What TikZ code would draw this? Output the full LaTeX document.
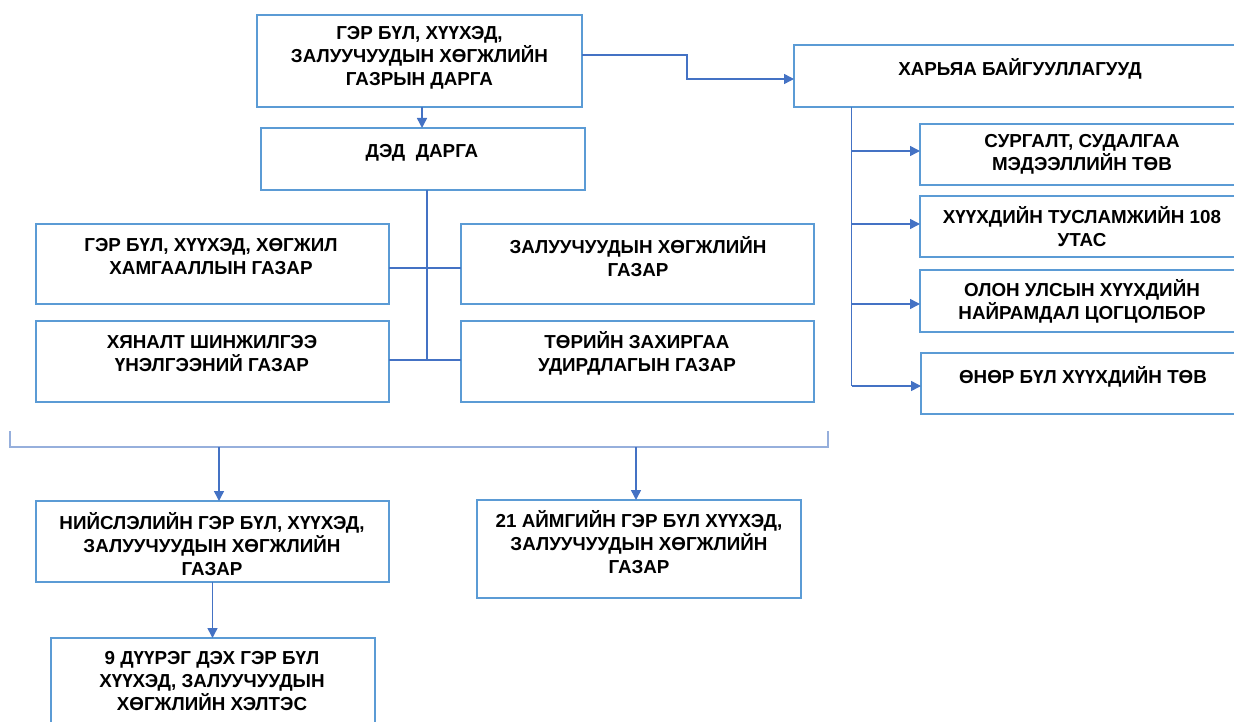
\documentclass[tikz,border=0pt]{standalone}
\usepackage{fontspec}
\setmainfont{Liberation Sans}
\usetikzlibrary{arrows.meta,calc}
\definecolor{boxblue}{RGB}{91,155,213}
\definecolor{lineblue}{RGB}{68,114,196}
\definecolor{brkblue}{RGB}{150,175,220}
\tikzset{
  box/.style={draw=boxblue, line width=1.8pt, inner sep=0pt, outer sep=0pt, anchor=north west},
  txt/.style={font=\bfseries\fontsize{18.8}{23}\selectfont, align=center, inner sep=0pt, text=black},
  conn/.style={draw=lineblue, line width=1.5pt},
  arr/.style={conn, -{Triangle[length=10pt,width=10pt]}},
}
\begin{document}
\begin{tikzpicture}[x=1pt,y=1pt]
\useasboundingbox (0,0) rectangle (1234,-722);
% boxes
\node[box, minimum width=325pt, minimum height=92pt] (top) at (257,-15) {};
\node[box, minimum width=324pt, minimum height=62pt] (ded) at (261,-128) {};
\node[box, minimum width=452pt, minimum height=62pt] (harya) at (794,-45) {};
\node[box, minimum width=324pt, minimum height=61pt] (s1) at (920,-124) {};
\node[box, minimum width=324pt, minimum height=61pt] (s2) at (920,-196) {};
\node[box, minimum width=324pt, minimum height=62pt] (s3) at (920,-270) {};
\node[box, minimum width=323pt, minimum height=61pt] (s4) at (921,-353) {};
\node[box, minimum width=353pt, minimum height=80pt] (g1) at (36,-224) {};
\node[box, minimum width=353pt, minimum height=80pt] (g2) at (461,-224) {};
\node[box, minimum width=353pt, minimum height=81pt] (g3) at (36,-321) {};
\node[box, minimum width=353pt, minimum height=81pt] (g4) at (461,-321) {};
\node[box, minimum width=353pt, minimum height=81pt] (nis) at (36,-501) {};
\node[box, minimum width=324pt, minimum height=98pt] (aim) at (477,-500) {};
\node[box, minimum width=324pt, minimum height=107pt] (dur) at (51,-638) {};
% texts
\node[txt] (ttop) at (419.5,-58) {ГЭР БҮЛ, ХҮҮХЭД,\\ЗАЛУУЧУУДЫН ХӨГЖЛИЙН\\ГАЗРЫН ДАРГА};
\node[txt] (tded) at (422,-153) {ДЭД\ \ ДАРГА};
\node[txt] (tharya) at (1020,-69) {ХАРЬЯА БАЙГУУЛЛАГУУД};
\node[txt] (ts1) at (1082,-154.5) {СУРГАЛТ, СУДАЛГАА\\МЭДЭЭЛЛИЙН ТӨВ};
\node[txt] (ts2) at (1082,-227) {ХҮҮХДИЙН ТУСЛАМЖИЙН 108\\УТАС};
\node[txt] (ts3) at (1082,-301) {ОЛОН УЛСЫН ХҮҮХДИЙН\\НАЙРАМДАЛ ЦОГЦОЛБОР};
\node[txt] (ts4) at (1083,-377) {ӨНӨР БҮЛ ХҮҮХДИЙН ТӨВ};
\node[txt] (tg1) at (211,-256.5) {ГЭР БҮЛ, ХҮҮХЭД, ХӨГЖИЛ\\ХАМГААЛЛЫН ГАЗАР};
\node[txt] (tg2) at (638,-256.5) {ЗАЛУУЧУУДЫН ХӨГЖЛИЙН\\ГАЗАР};
\node[txt] (tg3) at (212,-354) {ХЯНАЛТ ШИНЖИЛГЭЭ\\ҮНЭЛГЭЭНИЙ ГАЗАР};
\node[txt] (tg4) at (637,-353) {ТӨРИЙН ЗАХИРГАА\\УДИРДЛАГЫН ГАЗАР};
\node[txt] (tnis) at (212,-544) {НИЙСЛЭЛИЙН ГЭР БҮЛ, ХҮҮХЭД,\\ЗАЛУУЧУУДЫН ХӨГЖЛИЙН\\ГАЗАР};
\node[txt] (taim) at (639,-542.5) {21 АЙМГИЙН ГЭР БҮЛ ХҮҮХЭД,\\ЗАЛУУЧУУДЫН ХӨГЖЛИЙН\\ГАЗАР};
\node[txt] (tdur) at (212,-681) {9 ДҮҮРЭГ ДЭХ ГЭР БҮЛ\\ХҮҮХЭД, ЗАЛУУЧУУДЫН\\ХӨГЖЛИЙН ХЭЛТЭС};
% connectors
\draw[arr] ([xshift=2.5pt]top.south) -- ([xshift=2.5pt]top.south |- ded.north);
\draw[arr] ([yshift=6pt]top.east) -| (687,-79) -- (harya.west |- 0,-79);
% central trunk
\coordinate (jn1) at (427,-268);
\coordinate (jn2) at (427,-360);
\draw[conn, line width=1.2pt] (ded.south -| jn1) -- (jn2);
\draw[conn, line width=1.2pt] (g1.east |- jn1) -- (g2.west |- jn1);
\draw[conn, line width=1.2pt] (g3.east |- jn2) -- (g4.west |- jn2);
% subsidiaries trunk
\coordinate (tr) at (851.5,-386);
\draw[conn, line width=1.2pt] (harya.south -| tr) -- (tr);
\draw[arr] (tr |- 0,-151) -- (s1.west |- 0,-151);
\draw[arr] (tr |- 0,-224) -- (s2.west |- 0,-224);
\draw[arr] (tr |- 0,-304) -- (s3.west |- 0,-304);
\draw[arr] (tr) -- (s4.west |- tr);
% bracket
\coordinate (bk1) at (10,-431);
\coordinate (bk2) at (828,-431);
\coordinate (bl) at (219,-447);
\coordinate (br) at (636,-447);
\draw[draw=brkblue, line width=1.5pt] (bk1) |- (bl) -- (br) -| (bk2);
\draw[arr] (bl) -- (bl |- nis.north);
\draw[arr] (br) -- (br |- aim.north);
\draw[arr] (nis.south) -- (nis.south |- dur.north);
\end{tikzpicture}
\end{document}
